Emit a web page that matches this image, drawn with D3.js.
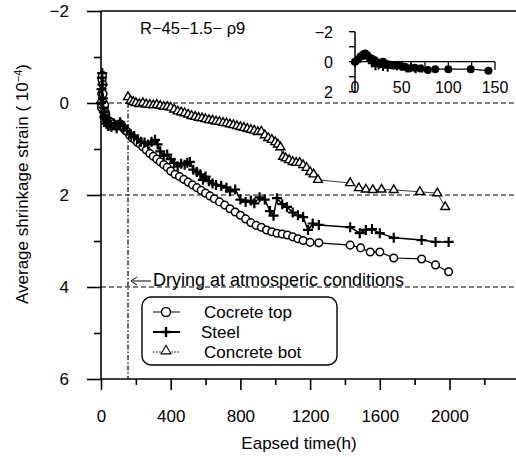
<!DOCTYPE html>
<html><head><meta charset="utf-8">
<script src="https://cdn.jsdelivr.net/npm/d3@7"></script>
<style>body{margin:0;background:#fff} svg{display:block} text{font-family:"Liberation Sans",Arial,Helvetica,sans-serif;fill:#000}</style>
</head><body><svg id="c" width="516" height="457"></svg>
<script>
// ---- data ----
const topT = [0,2,4,6,8,10,12,15,18,21,24,28,32,36,40,45,50,55,60,70,80,90,100,110,120,130,140,150,165,180,195,210,225,240,260,280,300,320,340,360,380,400,425,450,475,500,525,550,575,600,625,650,680,710,740,770,800,830,860,890,920,950,980,1010,1040,1070,1100,1130,1160,1200,1250,1430,1490,1545,1600,1680,1840,1920,1995];
const topV = [0.0,0.1,-0.2,-0.5,-0.6,-0.4,-0.2,0.0,0.1,0.05,0.2,0.25,0.35,0.4,0.38,0.45,0.4,0.5,0.42,0.45,0.5,0.48,0.5,0.45,0.5,0.55,0.6,0.62,0.7,0.76,0.8,0.86,0.9,0.95,1.02,1.1,1.16,1.22,1.28,1.34,1.4,1.48,1.55,1.6,1.66,1.72,1.78,1.84,1.9,1.96,2.02,2.08,2.15,2.22,2.3,2.37,2.44,2.52,2.6,2.66,2.7,2.76,2.8,2.83,2.85,2.87,2.91,2.95,2.99,3.03,3.04,3.09,3.15,3.24,3.24,3.37,3.39,3.52,3.67];
const steelT = [0,3,5,7,9,11,13,16,19,22,25,30,35,40,50,60,75,90,110,130,150,170,190,210,230,250,270,290,310,325,340,360,380,400,420,440,460,480,495,510,530,550,570,585,600,620,640,660,690,720,740,770,800,830,860,880,910,940,970,990,1010,1040,1067,1100,1130,1160,1188,1215,1250,1430,1485,1520,1555,1600,1680,1840,1920,1995];
const steelV = [0.0,-0.3,-0.55,-0.65,-0.4,-0.1,0.1,0.2,0.3,0.25,0.35,0.45,0.4,0.5,0.45,0.52,0.45,0.55,0.42,0.5,0.6,0.68,0.72,0.78,0.84,0.86,0.9,0.84,0.8,0.9,1.05,1.15,1.12,1.22,1.3,1.38,1.32,1.34,1.3,1.28,1.45,1.5,1.55,1.67,1.6,1.7,1.75,1.78,1.8,1.84,1.92,1.88,2.1,2.15,2.12,2.18,2.05,2.1,2.35,2.45,2.07,2.2,2.26,2.38,2.44,2.48,2.76,2.62,2.65,2.7,2.83,2.76,2.74,2.83,2.93,2.98,3.02,3.02];
const botT = [155,170,185,200,220,240,260,280,300,320,340,360,380,400,420,440,460,480,500,520,540,560,580,600,620,640,660,680,700,720,740,760,780,800,820,840,860,880,900,920,940,960,980,1000,1015,1030,1045,1060,1080,1100,1120,1140,1160,1180,1200,1220,1245,1430,1480,1520,1560,1610,1680,1830,1930,1975];
const botV = [-0.13,-0.05,-0.02,0.0,0.02,0.0,0.03,0.04,0.05,0.04,0.06,0.08,0.08,0.1,0.14,0.18,0.2,0.22,0.25,0.28,0.3,0.32,0.33,0.35,0.37,0.38,0.4,0.41,0.43,0.44,0.46,0.48,0.5,0.52,0.54,0.56,0.58,0.6,0.63,0.62,0.7,0.76,0.8,0.85,0.9,0.96,1.17,1.2,1.24,1.28,1.3,1.3,1.35,1.41,1.5,1.55,1.67,1.74,1.85,1.88,1.89,1.88,1.89,1.93,1.96,2.26];
// inset (first 150 h)
const insetTopT = [0,3,6,9,11,13,15,18,21,24,27,30,34,38,42,46,50,54,58,64,70,78,86,100,124,143];
const insetTopV = [0,-0.15,-0.35,-0.5,-0.55,-0.45,-0.3,-0.2,-0.1,0.05,0.1,0.0,0.15,0.2,0.25,0.2,0.3,0.35,0.45,0.4,0.45,0.55,0.5,0.5,0.5,0.6];
const insetSteelT = [0,5,10,14,18,22,26,30,35,40,45,50,55,60,65,72];
const insetSteelV = [0.1,-0.2,-0.4,-0.3,0.1,0.3,0.2,0.35,0.4,0.25,0.3,0.35,0.45,0.3,0.5,0.45];

const xMajor = [0,400,800,1200,1600,2000];
const xMinor = [200,600,1000,1400,1800,2200];
const yMajor = [-2,0,2,4,6];
const yMinor = [-1,1,3,5];
const refLines = [0,2,4];
const dryingStart = 155;
const insetXTicks = [0,50,100,150];
const insetXMinor = [25,75,125];
const insetYTicks = [-2,0,2];
const insetYMinor = [-1,1];
const seriesNames = ["Cocrete top","Steel","Concrete bot"];
const titleText = "R\u221245\u22121.5\u2212 \u03c19";
const noteText = "Drying at atmosperic conditions";

// ---- drawing ----
const svg = d3.select("#c");
const x = d3.scaleLinear().domain([0,2400]).range([101,519.2]);
const y = d3.scaleLinear().domain([-2,6]).range([11,379]);

// reference dashed lines
svg.selectAll(".ref").data(refLines).join("line")
  .attr("x1",x(0)).attr("x2",516).attr("y1",d=>y(d)).attr("y2",d=>y(d))
  .attr("stroke","#000").attr("stroke-width",1.2).attr("stroke-dasharray","5,3");
svg.append("line").attr("x1",x(dryingStart)).attr("x2",x(dryingStart))
  .attr("y1",y(0)).attr("y2",y(6))
  .attr("stroke","#000").attr("stroke-width",1.2).attr("stroke-dasharray","5,2,1.5,2");

// axes
const gx = svg.append("g").attr("transform",`translate(0,${y(6)})`);
gx.call(d3.axisBottom(x).tickValues(xMajor).tickSize(11).tickPadding(20).tickFormat(d3.format("d")));
const gxm = svg.append("g").attr("transform",`translate(0,${y(6)})`);
gxm.call(d3.axisBottom(x).tickValues(xMinor).tickSize(6).tickFormat(""));
const gy = svg.append("g").attr("transform",`translate(${x(0)},0)`);
gy.call(d3.axisLeft(y).tickValues(yMajor).tickSize(14).tickPadding(18).tickFormat(d3.format("d")));
const gym = svg.append("g").attr("transform",`translate(${x(0)},0)`);
gym.call(d3.axisLeft(y).tickValues(yMinor).tickSize(7).tickFormat(""));
[gx,gxm,gy,gym].forEach(g=>{
  g.select(".domain").remove();
  g.selectAll("line").attr("stroke","#000").attr("stroke-width",1.6);
  g.selectAll("text").attr("font-size",17).attr("font-family","Liberation Sans, Arial, sans-serif");
});
// axis lines
svg.append("line").attr("x1",x(0)).attr("x2",516).attr("y1",y(6)).attr("y2",y(6)).attr("stroke","#000").attr("stroke-width",1.6);
svg.append("line").attr("x1",x(0)).attr("x2",516).attr("y1",y(-2)).attr("y2",y(-2)).attr("stroke","#000").attr("stroke-width",1.6);
svg.append("line").attr("x1",x(0)).attr("x2",x(0)).attr("y1",y(-2)).attr("y2",y(6)).attr("stroke","#000").attr("stroke-width",1.6);

// symbols
const tri = d3.symbol().type(d3.symbolTriangle).size(34);
function plusPath(s){return `M${-s},0H${s}M0,${-s}V${s}`;}

function series(T,V){return T.map((t,i)=>[t,V[i]]);}
const line = d3.line().x(d=>x(d[0])).y(d=>y(d[1]));

// concrete bot
const botData = series(botT,botV);
svg.append("path").datum(botData).attr("d",line).attr("fill","none").attr("stroke","#222").attr("stroke-width",0.9);
svg.selectAll(".tri").data(botData).join("path").attr("class","tri")
  .attr("transform",d=>`translate(${x(d[0])},${y(d[1])})`).attr("d",tri)
  .attr("fill","#fff").attr("stroke","#000").attr("stroke-width",1.4);
// cocrete top
const topData = series(topT,topV);
svg.append("path").datum(topData).attr("d",line).attr("fill","none").attr("stroke","#000").attr("stroke-width",1.2);
svg.selectAll(".cir").data(topData).join("circle").attr("class","cir")
  .attr("cx",d=>x(d[0])).attr("cy",d=>y(d[1])).attr("r",3.8)
  .attr("fill","#fff").attr("stroke","#000").attr("stroke-width",1.5);
// steel
const steelData = series(steelT,steelV);
svg.append("path").datum(steelData).attr("d",line).attr("fill","none").attr("stroke","#000").attr("stroke-width",1.5);
svg.selectAll(".pl").data(steelData).join("path").attr("class","pl")
  .attr("transform",d=>`translate(${x(d[0])},${y(d[1])})`).attr("d",plusPath(5))
  .attr("fill","none").attr("stroke","#000").attr("stroke-width",2.2);

// title
svg.append("text").attr("x",140).attr("y",34).attr("font-size",16.5).text(titleText);

// drying annotation
svg.append("line").attr("x1",133).attr("x2",151).attr("y1",281).attr("y2",281).attr("stroke","#000").attr("stroke-width",1);
svg.append("path").attr("d","M131,281L137,277M131,281L137,285").attr("stroke","#000").attr("fill","none").attr("stroke-width",1);
svg.append("text").attr("x",153).attr("y",286).attr("font-size",18).text(noteText);

// legend
svg.append("rect").attr("x",142).attr("y",297).attr("width",195).attr("height",68).attr("rx",9)
  .attr("fill","#fff").attr("stroke","#000").attr("stroke-width",1.4);
const ly = [312,332,352];
seriesNames.forEach((n,i)=>{
  svg.append("line").attr("x1",153).attr("x2",180).attr("y1",ly[i]).attr("y2",ly[i])
    .attr("stroke",i===2?"#333":"#000").attr("stroke-width",i===1?2:1).attr("stroke-dasharray",i===2?"2,1":null);
  if(i===0) svg.append("circle").attr("cx",166).attr("cy",ly[i]).attr("r",4.5).attr("fill","#fff").attr("stroke","#000").attr("stroke-width",1.4);
  if(i===1) svg.append("path").attr("transform",`translate(166,${ly[i]})`).attr("d",plusPath(5)).attr("stroke","#000").attr("stroke-width",2.4);
  if(i===2) svg.append("path").attr("transform",`translate(166,${ly[i]-1})`).attr("d",d3.symbol().type(d3.symbolTriangle).size(42)).attr("fill","#fff").attr("stroke","#000").attr("stroke-width",1.1);
  svg.append("text").attr("x",i===1?201:204).attr("y",ly[i]+6).attr("font-size",17).text(n);
});

// axis titles
svg.append("text").attr("x",299).attr("y",449).attr("text-anchor","middle").attr("font-size",17).text("Eapsed time(h)");
const yl = svg.append("text").attr("transform","translate(28,184) rotate(-90)").attr("text-anchor","middle").attr("font-size",17);
yl.append("tspan").text("Average shrinkage strain ( 10");
yl.append("tspan").attr("baseline-shift","super").attr("font-size",11).text("\u22124");
yl.append("tspan").text(")");

// ---- inset ----
const xi = d3.scaleLinear().domain([0,150]).range([355,495]);
const yi = d3.scaleLinear().domain([-2,2]).range([31.7,91.7]);
const gi = svg.append("g");
gi.append("line").attr("x1",xi(0)).attr("x2",xi(0)).attr("y1",yi(-2)).attr("y2",yi(2)).attr("stroke","#000").attr("stroke-width",1.5);
gi.append("line").attr("x1",xi(0)).attr("x2",xi(150)).attr("y1",yi(0)).attr("y2",yi(0)).attr("stroke","#000").attr("stroke-width",1.3);
gi.selectAll(".iyt").data(insetYTicks.concat(insetYMinor)).join("line")
  .attr("x1",xi(0)-6).attr("x2",xi(0)).attr("y1",d=>yi(d)).attr("y2",d=>yi(d)).attr("stroke","#000").attr("stroke-width",1.4);
gi.selectAll(".ixt").data(insetXTicks.concat(insetXMinor).filter(d=>d>0)).join("line")
  .attr("x1",d=>xi(d)).attr("x2",d=>xi(d)).attr("y1",yi(0)).attr("y2",yi(0)+8).attr("stroke","#000").attr("stroke-width",1.3);
gi.selectAll(".iyl").data(insetYTicks).join("text")
  .attr("x",xi(0)-22).attr("y",d=>yi(d)+6).attr("text-anchor","end").attr("font-size",16)
  .text(d=>d3.format("d")(d));
gi.selectAll(".ixl").data(insetXTicks).join("text")
  .attr("x",d=>xi(d)).attr("y",93).attr("text-anchor","middle").attr("font-size",16)
  .text(d=>d);
const iline = d3.line().x(d=>xi(d[0])).y(d=>yi(d[1]));
const itop = series(insetTopT,insetTopV), ist = series(insetSteelT,insetSteelV);
gi.append("path").datum(itop).attr("d",iline).attr("fill","none").attr("stroke","#000").attr("stroke-width",1.2);
gi.append("path").datum(ist).attr("d",iline).attr("fill","none").attr("stroke","#000").attr("stroke-width",1.2);
gi.selectAll(".ic").data(itop).join("circle").attr("cx",d=>xi(d[0])).attr("cy",d=>yi(d[1])).attr("r",4).attr("fill","#000");
gi.selectAll(".ip").data(ist).join("path").attr("transform",d=>`translate(${xi(d[0])},${yi(d[1])})`).attr("d",plusPath(4)).attr("stroke","#000").attr("stroke-width",2);
</script></body></html>
